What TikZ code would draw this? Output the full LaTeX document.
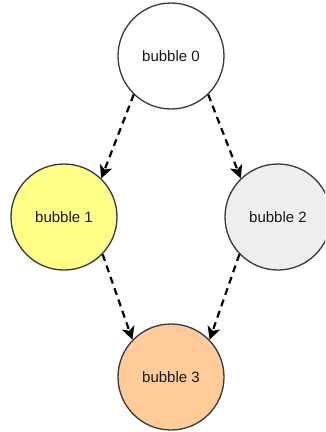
\documentclass[tikz,border=0pt]{standalone}
\usepackage{fontspec}
\setmainfont{Liberation Sans}
\usetikzlibrary{arrows.meta}
\definecolor{bord}{HTML}{36393D}
\definecolor{yel}{HTML}{FFFF88}
\definecolor{gry}{HTML}{EEEEEE}
\definecolor{ora}{HTML}{FFCC99}
\tikzset{
  bubble/.style={circle, draw=bord, line width=1.3pt, minimum size=106pt, inner sep=0pt, font=\fontsize{15}{18}\selectfont, text=black!90},
  link/.style={draw=black, line width=2.2pt, dash pattern=on 7pt off 5pt, -{Stealth[length=13pt,width=13pt,inset=3.5pt]}}
}
\begin{document}
\begin{tikzpicture}[x=1pt,y=-1pt]
\useasboundingbox (0,0) rectangle (325,432);
\begin{scope}
\clip (0,0) rectangle (325,432);
\node[bubble, fill=white] (b0) at (171,56) {bubble 0};
\node[bubble, fill=yel] (b1) at (64,217) {bubble 1};
\node[bubble, fill=gry] (b2) at (278,217) {bubble 2};
\node[bubble, fill=ora] (b3) at (171,377) {bubble 3};
\draw[link] (b0.-134) -- (b1.46);
\draw[link] (b0.-46) -- (b2.134);
\draw[link] (b1.-44) -- (b3.136);
\draw[link] (b2.-136) -- (b3.44);
\end{scope}
\end{tikzpicture}
\end{document}
